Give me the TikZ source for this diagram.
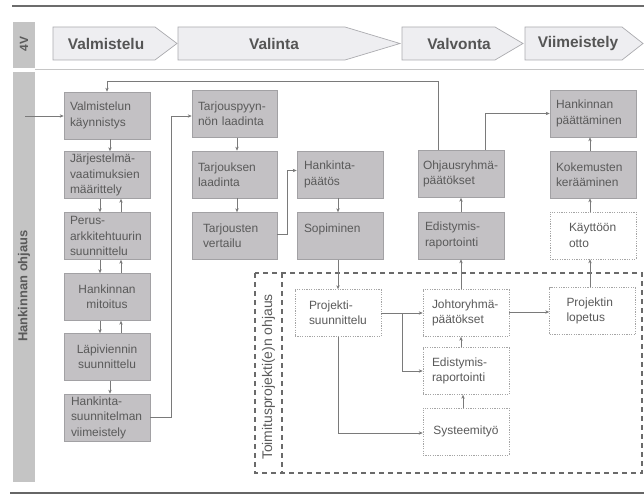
\documentclass[tikz,border=0pt]{standalone}
\usepackage{fontspec}
\setmainfont{Liberation Sans}
\usetikzlibrary{arrows.meta,calc}
\definecolor{gfill}{HTML}{C3C1C4}
\definecolor{gdraw}{HTML}{A2A1A4}
\definecolor{gtext}{HTML}{5A5A5A}
\definecolor{wdraw}{HTML}{A5A5A5}
\definecolor{hdfill}{HTML}{EEEEF1}
\definecolor{hddraw}{HTML}{ABABAF}
\definecolor{hdtext}{HTML}{555555}
\definecolor{stripc}{HTML}{C4C4C4}
\definecolor{aline}{HTML}{7A7A7A}
\definecolor{frame}{HTML}{6A6A6A}
\begin{document}
\begin{tikzpicture}[x=1bp,y=-1bp,
  gbox/.style={rectangle, fill=gfill, draw=gdraw, line width=0.6bp,
    minimum width=86bp, minimum height=47bp, inner xsep=0pt, inner ysep=0pt,
    text width=74bp, align=left, text=gtext, font=\fontsize{12}{15.5}\selectfont},
  wbox/.style={gbox, fill=white, draw=wdraw, dash pattern=on 1.2bp off 1.2bp},
  arr/.style={draw=aline, line width=0.7bp, -{Stealth[length=4bp,width=3.4bp]}},
  hdr/.style={fill=hdfill, draw=hddraw, line width=0.7bp},
  hdtxt/.style={text=hdtext, font=\fontsize{15.5}{18}\selectfont\bfseries, inner sep=0pt},
  striplabel/.style={rotate=90, text=gtext, font=\fontsize{13}{15}\selectfont\bfseries, inner sep=0pt},
  dashframe/.style={draw=frame, line width=1.3bp, dash pattern=on 5bp off 4bp},
  rule/.style={draw=#1, line width=1.6bp}
]
\useasboundingbox (0,0) rectangle (644,498);

% top and bottom rules
\draw[rule=gray!85!black] (12,6) -- (644,6);
\draw[rule=gray!80!black] (10,493) -- (644,493);
\draw[draw=gray!45, line width=1.1bp] (35,69.5) -- (644,69.5);

% strips
\fill[stripc] (13,22) rectangle (35,68);
\fill[stripc] (13,72) rectangle (35,482);
\node[striplabel, font=\fontsize{12}{14}\selectfont\bfseries] (lab4v) at (24,44) {4V};
\node[striplabel] (labho) at (24,286) {Hankinnan ohjaus};

% header chevrons
\draw[hdr] (53,27) -- (155,27) -- (177,43.5) -- (155,60) -- (53,60) -- cycle;
\draw[hdr] (178,27) -- (345,27) -- (400,43.5) -- (345,60) -- (178,60) -- cycle;
\draw[hdr] (402,27) -- (495,27) -- (523,43.5) -- (495,60) -- (402,60) -- cycle;
\draw[hdr] (525,27) -- (622,27) -- (643,43.5) -- (622,60) -- (525,60) -- cycle;
\node[hdtxt] (h1) at (106,43.5) {Valmistelu};
\node[hdtxt] (h2) at (274,43.5) {Valinta};
\node[hdtxt] (h3) at (459,43.5) {Valvonta};
\node[hdtxt] (h4) at (578,43.5) {Viimeistely};

% dashed frame
\draw[dashframe] (255,273) rectangle (642,473);
\draw[dashframe] (282,273) -- (282,473);
\node[rotate=90, text=gtext, font=\fontsize{14}{16}\selectfont, inner sep=0pt] (labto) at (268.5,377) {Toimitusprojekti(e)n ohjaus};

% column 1
\node[gbox] (B1) at (107,115.5) {Valmistelun\\käynnistys};
\node[gbox] (B2) at (107,175) {\mbox{Järjestelmä-}\\vaatimuksien\\määrittely};
\node[gbox] (B3) at (107,236) {\mbox{Perus-}\\arkkitehtuurin\\suunnittelu};
\node[gbox, align=center] (B4) at (107,297) {Hankinnan\\mitoitus};
\node[gbox, align=center] (B5) at (107,357) {Läpiviennin\\suunnittelu};
\node[gbox, text width=72bp] (B6) at (107,417.5) {\mbox{Hankinta-}\\suunnitelman\\viimeistely};

% column 2
\node[gbox, minimum width=85bp, text width=73bp] (C1) at (234.5,114) {\mbox{Tarjouspyyn-}\\nön laadinta};
\node[gbox, minimum width=85bp, text width=73bp] (C2) at (234.5,174.5) {Tarjouksen\\laadinta};
\node[gbox, minimum width=85bp, text width=63bp] (C3) at (234.5,236) {Tarjousten\\vertailu};

% column 3
\node[gbox, text width=72bp] (D1) at (340,174.5) {\mbox{Hankinta-}\\päätös};
\node[gbox, text width=72bp] (D2) at (340,236) {Sopiminen\\\mbox{}};

% column 4
\node[gbox, text width=76bp] (E1) at (461,174) {\mbox{Ohjausryhmä-}\\päätökset};
\node[gbox, text width=72bp] (E2) at (461,235.5) {\mbox{Edistymis-}\\raportointi};

% column 5
\node[gbox] (F1) at (593,113.5) {Hankinnan\\päättäminen};
\node[gbox] (F2) at (593,174.5) {Kokemusten\\kerääminen};
\node[wbox, text width=48bp] (F3) at (593,235.5) {Käyttöön\\otto};

% project boxes
\node[wbox, text width=58bp] (P) at (338,313) {\mbox{Projekti-}\\suunnittelu};
\node[wbox, text width=68bp] (J) at (466,313) {\mbox{Johtoryhmä-}\\päätökset};
\node[wbox, text width=68bp] (ER) at (466,371) {\mbox{Edistymis-}\\raportointi};
\node[wbox, align=center] (S) at (466,431.5) {Systeemityö};
\node[wbox, text width=52bp] (PL) at (592.5,311) {Projektin\\lopetus};

% connectors: column 1
\coordinate (entry) at (25,116);
\draw[arr] (entry) -- (entry -| B1.west);
\draw[arr] ([xshift=3bp]B1.south) -- ([xshift=3bp]B2.north);
\draw[arr] ([xshift=-7bp]B2.south) -- ([xshift=-7bp]B3.north);
\draw[arr] ([xshift=14bp]B3.north) -- ([xshift=14bp]B2.south);
\draw[arr] ([xshift=-7bp]B3.south) -- ([xshift=-7bp]B4.north);
\draw[arr] ([xshift=14bp]B4.north) -- ([xshift=14bp]B3.south);
\draw[arr] ([xshift=-7bp]B4.south) -- ([xshift=-7bp]B5.north);
\draw[arr] ([xshift=14bp]B5.north) -- ([xshift=14bp]B4.south);
\draw[arr] ([xshift=3bp]B5.south) -- ([xshift=3bp]B6.north);

% column 1 -> column 2
\draw[arr] (B6.east) -- ++(21,0) |- ([yshift=-2bp]C1.west);
\draw[arr] ([xshift=2.5bp]C1.south) -- ([xshift=2.5bp]C2.north);
\draw[arr] ([xshift=2.5bp]C2.south) -- ([xshift=2.5bp]C3.north);
\draw[arr] ([yshift=2bp]C3.east) -- ++(10,0) |- ([yshift=4bp]D1.west);
\draw[arr] ([xshift=-2bp]D1.south) -- ([xshift=-2bp]D2.north);
\draw[arr] (D2.south -| P.north) -- (P.north);

% project internal
\draw[arr] (P.east) -- (P.east -| J.west);
\coordinate (br) at ($(P.east)!0.5!(P.east -| J.west)$);
\draw[arr] (br) |- (ER.west);
\draw[arr] (P.south) |- ([yshift=-1.5bp]S.west);
\draw[arr] ([xshift=-3bp]S.north) -- ([xshift=-3bp]ER.south);
\draw[arr] ([xshift=-5bp]ER.north) -- ([xshift=-5bp]J.south);
\draw[arr] ([yshift=1bp]J.east) -- ([yshift=1bp]J.east -| PL.west);

% upward to Valvonta / Viimeistely
\draw[arr] (E2.south |- J.north) -- (E2.south);
\draw[arr] (E2.north) -- (E1.south);
\draw[arr] ([xshift=-3bp]F3.south |- PL.north) -- ([xshift=-3bp]F3.south);
\draw[arr] ([xshift=-3bp]F3.north) -- ([xshift=-3bp]F2.south);
\draw[arr] ([xshift=-3bp]F2.north) -- ([xshift=-3bp]F1.south);
\draw[arr] ([xshift=24bp]E1.north) |- (F1.west);
\coordinate (fb) at (107,81);
\draw[arr] ([xshift=-23bp]E1.north) |- (fb) -- (B1.north);
\end{tikzpicture}
\end{document}
